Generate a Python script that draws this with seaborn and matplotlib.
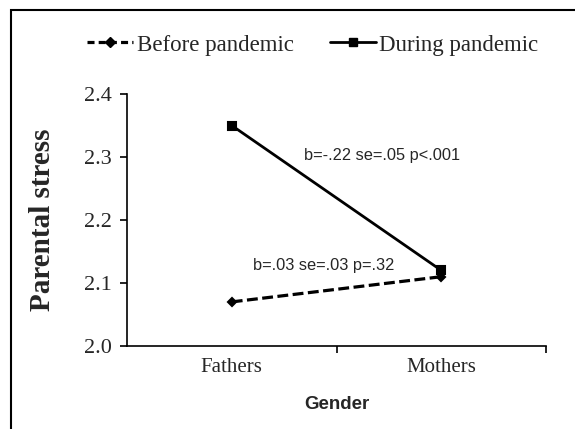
import numpy as np
import matplotlib.pyplot as plt
import pandas as pd
import seaborn as sns
from matplotlib.patches import Rectangle
from matplotlib.ticker import FixedLocator, FormatStrFormatter

# 数据
genders = ["Fathers", "Mothers"]
before = [2.07, 2.11]
during = [2.35, 2.12]
series_names = ["Before pandemic", "During pandemic"]
yticks = [2.0, 2.1, 2.2, 2.3, 2.4]
notes = ["b=-.22 se=.05 p<.001", "b=.03 se=.03 p=.32"]

df = pd.DataFrame({
    "Gender": genders * 2,
    "Stress": before + during,
    "Period": [series_names[0]] * 2 + [series_names[1]] * 2,
})

sns.set_theme(style="white")
plt.rcParams["font.family"] = ["Liberation Serif", "DejaVu Serif"]

fig = plt.figure(figsize=(5.75, 4.29), dpi=100)
ax = fig.add_axes([127 / 575, 1 - 346 / 429, (546 - 127) / 575, (346 - 94) / 429])

sns.pointplot(data=df, x="Gender", y="Stress", hue="Period",
              hue_order=series_names, palette=["black", "black"],
              markers=["D", "s"], linestyles=["--", "-"],
              markersize=6, linewidth=2, ax=ax)

# 线型细调
lines = [l for l in ax.lines if len(l.get_xdata()) == 2]
if len(lines) >= 2:
    lines[0].set_dashes((3.4, 1.4))
    lines[0].set_linewidth(2.3)
    lines[0].set_markersize(4.5)
    lines[1].set_linewidth(1.9)
    lines[1].set_markersize(7)

if ax.get_legend() is not None:
    ax.get_legend().remove()

ax.set_xlim(-0.5, 1.5)
ax.set_ylim(2.0, 2.4)
ax.yaxis.set_major_locator(FixedLocator(yticks))
ax.yaxis.set_major_formatter(FormatStrFormatter("%.1f"))
ax.set_xticks([0, 1])
ax.set_xticklabels(genders)
ax.xaxis.set_minor_locator(FixedLocator([0.5, 1.5]))
ax.tick_params(axis="x", which="major", length=0, labelsize=15, pad=9)
ax.tick_params(axis="x", which="minor", length=5, width=1.2, direction="out", color="black")
ax.tick_params(axis="y", which="major", length=5, width=1.2, direction="out",
               color="black", labelsize=16, pad=6)
ax.tick_params(left=True, bottom=True, which="both")

for s in ["top", "right"]:
    ax.spines[s].set_visible(False)
for s in ["left", "bottom"]:
    ax.spines[s].set_color("black")
    ax.spines[s].set_linewidth(1.2)

ax.set_ylabel("Parental stress", fontsize=21, fontweight="bold", labelpad=20)
ax.set_xlabel("Gender", fontsize=13.5, fontweight="bold",
              fontfamily="Liberation Sans", labelpad=13)

ax.text(0.344, 2.303, notes[0], fontsize=11.8, fontfamily="Liberation Sans",
        va="center", ha="left")
ax.text(0.10, 2.127, notes[1], fontsize=11.8, fontfamily="Liberation Sans",
        va="center", ha="left")

# 图例
handles = [plt.Line2D([], [], color="black", linestyle="--", dashes=(2.2, 1.3),
                      linewidth=2.3, marker="D", markersize=5),
           plt.Line2D([], [], color="black", linestyle="-", linewidth=2,
                      marker="s", markersize=6)]
fig.legend(handles, series_names, loc="center", bbox_to_anchor=(313 / 575, 1 - 45 / 429),
           ncol=2, frameon=False, fontsize=16.5, handlelength=2.0,
           handletextpad=0.15, columnspacing=1.6)

# 外框
fig.add_artist(Rectangle((11 / 575, -0.2), 1.2, 1 - 10 / 429 + 0.2,
                         transform=fig.transFigure, fill=False,
                         edgecolor="black", linewidth=1.5))

fig.savefig("out.png", dpi=100)
